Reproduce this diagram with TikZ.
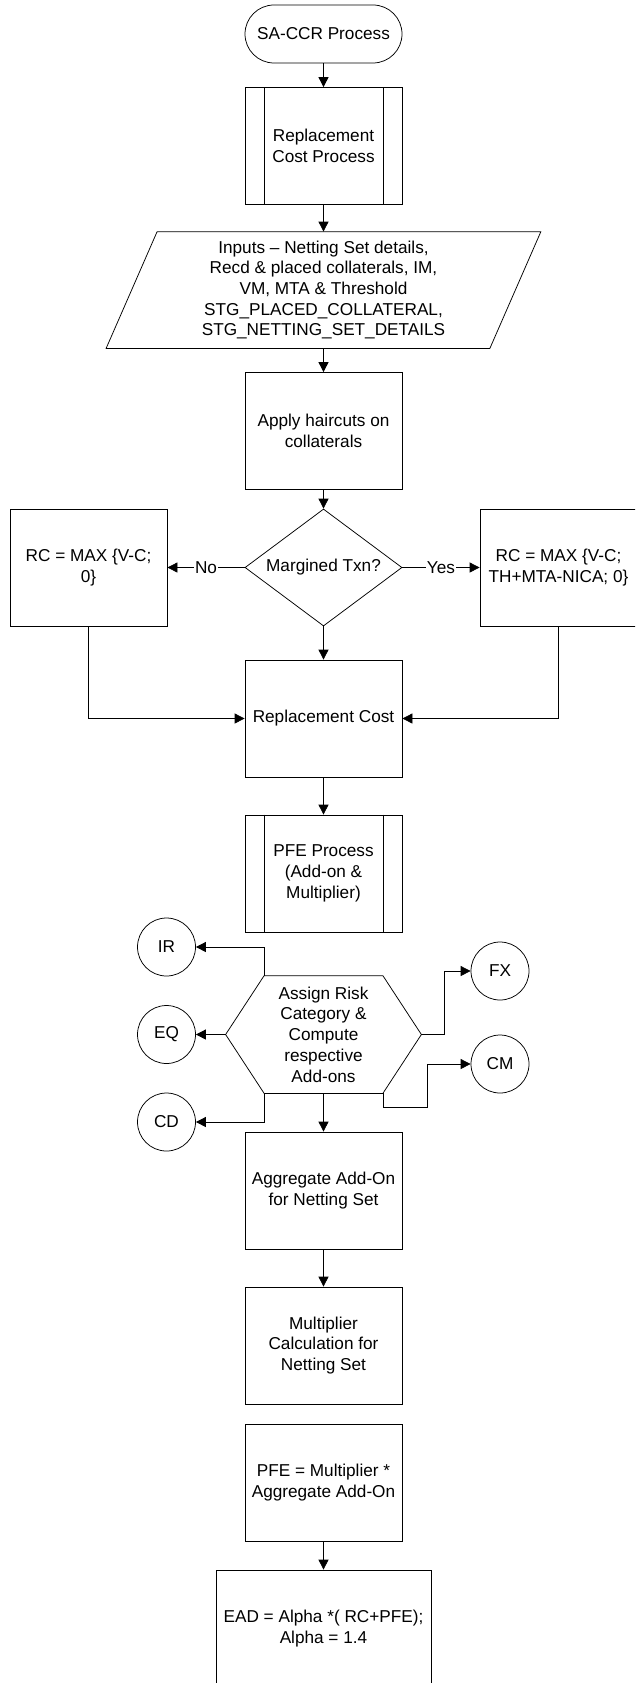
\documentclass[tikz,border=0pt]{standalone}
\usepackage{fontspec}
\setmainfont{Liberation Sans}
\usetikzlibrary{arrows.meta,shapes.geometric}

\begin{document}
\begin{tikzpicture}[x=1pt, y=-1pt, line width=0.75pt,
        font=\fontsize{17.2}{20.7}\selectfont,
        every node/.style={align=center, inner sep=0pt},
        kotak/.style={draw, minimum width=157pt, minimum height=117pt},
        terminal/.style={draw, rounded corners=29pt, minimum width=157pt, minimum height=58pt},
        putusan/.style={draw, diamond, aspect=1.33, minimum width=157pt, minimum height=117pt},
        bulat/.style={draw, circle, minimum size=58pt},
        panah/.style={-{Triangle[length=10pt, width=10pt]}},
        label/.style={fill=white, inner sep=1pt}]

      % ukuran gambar
      \useasboundingbox (0,0) rectangle (635,1683);
      \clip (0,0) rectangle (635,1683);

      % sumbu tengah
      \def\cx{323.5}

      % Kolom utama
      \node[terminal] (sacr) at (\cx,34) {SA-CCR Process};
      \node[kotak] (rcproc) at (\cx,146) {Replacement\\Cost Process};
      \node[minimum width=434pt, minimum height=116pt] (inputs) at (\cx,290)
          {Inputs \textendash\ Netting Set details,\\Recd \& placed collaterals, IM,\\VM, MTA \& Threshold\\STG\_PLACED\_COLLATERAL,\\STG\_NETTING\_SET\_DETAILS};
      \node[kotak] (haircut) at (\cx,431) {Apply haircuts on\\collaterals};
      \node[putusan] (margin) at (\cx,567.5) {Margined Txn?};
      \node[kotak] (rcno) at (88.5,567.5) {RC = MAX \{V-C;\\0\}};
      \node[kotak] (rcyes) at (558.5,567.5) {RC = MAX \{V-C;\\TH+MTA-NICA; 0\}};
      \node[kotak] (repcost) at (\cx,718.5) {Replacement Cost};
      \node[kotak] (pfeproc) at (\cx,873.5) {PFE Process\\(Add-on \&\\Multiplier)};
      \node[minimum width=195pt, minimum height=117pt] (risk) at (\cx,1034.5)
          {Assign Risk\\Category \&\\Compute\\respective\\Add-ons};
      \node[kotak] (aggr) at (\cx,1190.5) {Aggregate Add-On\\for Netting Set};
      \node[kotak] (mult) at (\cx,1345.5) {Multiplier\\Calculation for\\Netting Set};
      \node[kotak] (pfe) at (\cx,1482.5) {PFE = Multiplier *\\Aggregate Add-On};
      \node[kotak, minimum width=215pt] (ead) at (\cx,1628.5) {EAD = Alpha *( RC+PFE);\\Alpha = 1.4};

      % Kategori risiko
      \node[bulat] (ir) at (166.5,947) {IR};
      \node[bulat] (eq) at (166.5,1034.5) {EQ};
      \node[bulat] (cd) at (166.5,1122) {CD};
      \node[bulat] (fx) at (500,971) {FX};
      \node[bulat] (cm) at (500,1064) {CM};

      % Garis tepi jajar genjang dan segi enam
      \draw (inputs.south west) -- ([xshift=51pt]inputs.north west) -- (inputs.north east)
          -- ([xshift=-51pt]inputs.south east) -- cycle;
      \draw (risk.west) -- ([xshift=38.5pt]risk.north west) -- ([xshift=-38.5pt]risk.north east)
          -- (risk.east) -- ([xshift=-38.5pt]risk.south east) -- ([xshift=38.5pt]risk.south west) -- cycle;

      % Garis dalam proses terdefinisi
      \foreach \n in {rcproc,pfeproc} {
          \draw ([xshift=19.5pt]\n.north west) -- ([xshift=19.5pt]\n.south west);
          \draw ([xshift=-19.5pt]\n.north east) -- ([xshift=-19.5pt]\n.south east);
        }

      % Panah lurus ke bawah
      \foreach \a/\b in {sacr/rcproc, rcproc/inputs, inputs/haircut, haircut/margin,
          margin/repcost, repcost/pfeproc, risk/aggr, aggr/mult, pfe/ead} {
          \draw[panah] (\a) -- (\b);
        }

      % Cabang keputusan
      \draw[panah] (margin) -- node[label] {No} (rcno);
      \draw[panah] (margin) -- node[label] {Yes} (rcyes);
      \draw[panah] (rcno) |- (repcost);
      \draw[panah] (rcyes) |- (repcost);

      % Panah ke kategori risiko
      \draw[panah] ([xshift=38.5pt]risk.north west) |- (ir);
      \draw[panah] (risk.west) -- (eq);
      \draw[panah] ([xshift=38.5pt]risk.south west) |- (cd);
      \draw[panah] (risk.east) -- ++(23,0) |- (fx);
      \draw[panah] ([xshift=-38.5pt]risk.south east) -- ++(0,14) -- ++(44,0) |- (cm);
    \end{tikzpicture}
\end{document}
